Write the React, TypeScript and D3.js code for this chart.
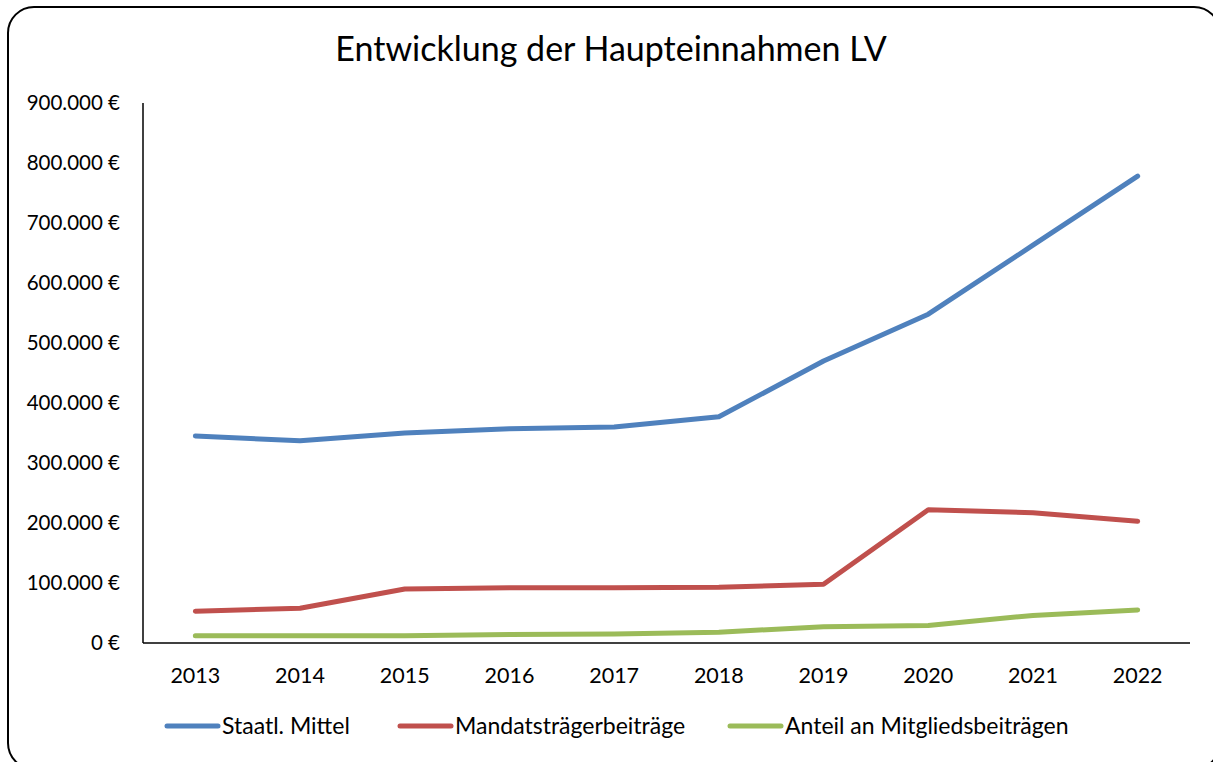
import React from "react";
import * as d3 from "d3";

const years = ["2013", "2014", "2015", "2016", "2017", "2018", "2019", "2020", "2021", "2022"];
const staatlMittel = [345000, 337000, 350000, 357000, 360000, 377000, 470000, 548000, 663000, 778000];
const mandatstraeger = [53000, 58000, 90000, 92000, 92000, 93000, 98000, 222000, 217000, 203000];
const mitgliedsbeitraege = [12000, 12000, 12000, 14000, 15000, 18000, 27000, 29000, 46000, 55000];
const yTicks = [0, 100000, 200000, 300000, 400000, 500000, 600000, 700000, 800000, 900000];

const seriesList = [
  { name: "Staatl. Mittel", values: staatlMittel, color: "#4F81BD" },
  { name: "Mandatsträgerbeiträge", values: mandatstraeger, color: "#C0504D" },
  { name: "Anteil an Mitgliedsbeiträgen", values: mitgliedsbeitraege, color: "#9BBB59" },
];

const W = 1213;
const H = 762;
const left = 143;
const right = 1190;
const top = 103;
const bottom = 643;
const font = "Lato, 'Open Sans', sans-serif";

export default function App() {
  const x = d3.scaleBand().domain(years).range([left, right]);
  const y = d3.scaleLinear().domain([0, 900000]).range([bottom, top]);
  const fmt = (v: number) => {
    if (v === 0) return "0 €";
    return d3.format(",")(v).replace(/,/g, ".") + " €";
  };
  const line = d3
    .line<number>()
    .x((_, i) => (x(years[i]) as number) + x.bandwidth() / 2)
    .y((d) => y(d));
  const legendX = [167, 400, 730];
  return (
    <svg width={W} height={H} style={{ position: "absolute", left: 0, top: 0 }}>
      <rect x={0} y={0} width={W} height={H} fill="#fff" />
      <rect x={8} y={7} width={1212} height={762} rx={26} ry={26} fill="#fff" stroke="#000" strokeWidth={2} />
      <text x={611} y={61} textAnchor="middle" fontFamily={font} fontSize={34} fill="#000">
        Entwicklung der Haupteinnahmen LV
      </text>
      {yTicks.map((t) => (
        <text key={t} x={120} y={y(t)} dy="0.35em" textAnchor="end" fontFamily={font} fontSize={20.5} fill="#000">
          {fmt(t)}
        </text>
      ))}
      {years.map((yr) => (
        <text
          key={yr}
          x={(x(yr) as number) + x.bandwidth() / 2}
          y={675}
          dy="0.35em"
          textAnchor="middle"
          fontFamily={font}
          fontSize={21.5}
          fill="#000"
        >
          {yr}
        </text>
      ))}
      {seriesList.map((s) => (
        <path
          key={s.name}
          d={line(s.values) as string}
          fill="none"
          stroke={s.color}
          strokeWidth={5}
          strokeLinecap="round"
          strokeLinejoin="round"
        />
      ))}
      <line x1={left} y1={top} x2={left} y2={bottom} stroke="#000" strokeWidth={1.5} />
      <line x1={left} y1={bottom} x2={right} y2={bottom} stroke="#000" strokeWidth={1.5} />
      {seriesList.map((s, i) => (
        <g key={s.name}>
          <line x1={legendX[i]} y1={726} x2={legendX[i] + 51} y2={726} stroke={s.color} strokeWidth={5} strokeLinecap="round" />
          <text x={legendX[i] + 55} y={726} dy="0.35em" fontFamily={font} fontSize={23} fill="#000">
            {s.name}
          </text>
        </g>
      ))}
    </svg>
  );
}
